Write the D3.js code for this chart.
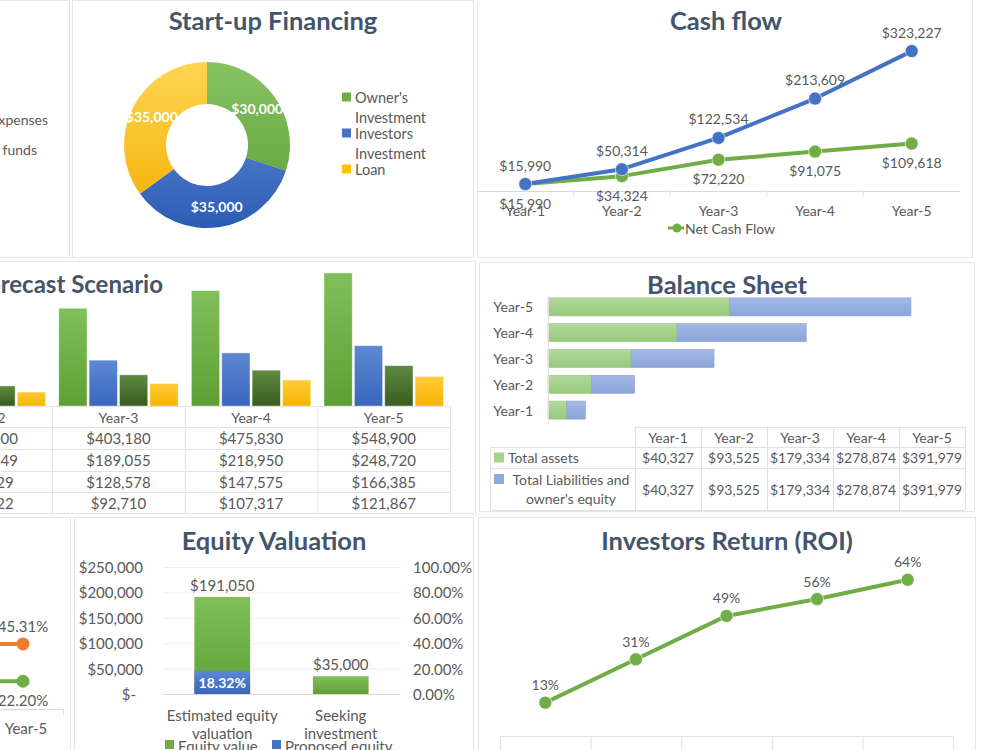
<!DOCTYPE html>
<html><head><meta charset="utf-8">
<script src="https://cdn.jsdelivr.net/npm/d3@7"></script>
<style>
body{margin:0;background:#fff;}
svg{display:block;font-family:Lato,'Noto Sans',sans-serif;}
</style>
</head><body>
<svg id="c" width="1000" height="750"></svg>
<script>
// ---------------- DATA ----------------
const years = ["Year-1","Year-2","Year-3","Year-4","Year-5"];

const sideLegendLabels = ["Start-up expenses","Start-up funds"];

const fundingSources = ["Owner's Investment","Investors Investment","Loan"];
const fundingValues = [30000,35000,35000];

const cumulativeCash = [15990,50314,122534,213609,323227];
const netCashFlow = [15990,34324,72220,91075,109618];

const forecastYears = ["Year-2","Year-3","Year-4","Year-5"];
const forecastSeries = ["Revenue","Expenses","Gross profit","Net profit"];
const forecastRevenue = [330000,403180,475830,548900];
const forecastExpenses = [159349,189055,218950,248720];
const forecastGross = [82929,128578,147575,166385];
const forecastNet = [57622,92710,107317,121867];

const balanceSeries = ["Total assets","Total Liabilities and owner's equity"];
const totalAssets = [40327,93525,179334,278874,391979];
const totalLiabilities = [40327,93525,179334,278874,391979];

const ratioYears = ["Year-4","Year-5"];
const ratioOrange = [45.2,45.31];
const ratioGreen = [22.1,22.20];

const equityCats = [["Estimated equity","valuation"],["Seeking","investment"]];
const equitySeries = ["Equity value","Proposed equity"];
const equityValue = [191050,35000];
const proposedEquity = [0.1832,null];
const equityTicks = [0,50000,100000,150000,200000,250000];
const pctTicks = [0,0.2,0.4,0.6,0.8,1.0];

const roiValues = [13,31,49,56,64];

// ---------------- SETUP ----------------
const svg = d3.select('#c');
const TXT = '#595959', TITLE = '#44546a';
const GREEN = '#70ad47', BLUE = '#4472c4', YELLOW = '#ffc000', ORANGE = '#ed7d31';
const defs = svg.append('defs');
function grad(id, c1, c2, y1, y2, units){
  const g = defs.append('linearGradient').attr('id', id).attr('x1',0).attr('x2',0);
  if(units){ g.attr('gradientUnits','userSpaceOnUse').attr('y1',y1).attr('y2',y2); }
  else { g.attr('y1',0).attr('y2',1); }
  g.append('stop').attr('offset','0%').attr('stop-color',c1);
  g.append('stop').attr('offset','100%').attr('stop-color',c2);
}
grad('gGreen','#80c05a','#5e9f35');
grad('gBlue','#5d88d4','#3866bb');
grad('gDk','#5e8a40','#385c20');
grad('gYel','#ffcb3a','#f5b400');
grad('dGreen','#86c462','#5c9b33',-83,83,true);
grad('dBlue','#6a94dc','#2d5cb4',-83,83,true);
grad('dYel','#ffd452','#f2b000',-83,83,true);
grad('bGreen','#b3d99c','#98c97b');
grad('bBlue','#a5b9e6','#8aa3d9');

function panel(x0,y0,x1,y1){
  svg.append('rect').attr('x',x0+0.5).attr('y',y0+0.5).attr('width',x1-x0).attr('height',y1-y0)
    .attr('fill','#fff').attr('stroke','#e6e6e6').attr('stroke-width',1);
}
function title(x,y,t,anchor,size){
  svg.append('text').attr('x',x).attr('y',y).attr('text-anchor',anchor||'middle').attr('dominant-baseline','central')
    .attr('fill',TITLE).attr('font-size',size||25.5).attr('font-weight',700).text(t);
}
function label(x,y,t,opts={}){
  return svg.append('text').attr('x',x).attr('y',y).attr('text-anchor',opts.anchor||'middle')
    .attr('dominant-baseline','central').attr('fill',opts.fill||TXT).attr('font-size',opts.size||14)
    .attr('font-weight',opts.weight||400).text(t);
}
const money = d3.format('$,');

panel(-400,0,69,257);
panel(72,0,473,257);
panel(477,-5,972,257);
panel(-400,261,475,513);
panel(479,262,974,511);
panel(-400,517,70,760);
panel(74,517,473,760);
panel(478,517,975,760);

// ---------------- TOP-LEFT (cut) ----------------
label(48,119,sideLegendLabels[0],{anchor:'end'});
label(37,149,sideLegendLabels[1],{anchor:'end'});

// ---------------- START-UP FINANCING ----------------
title(273,20,'Start-up Financing');
{
  const pie = d3.pie().sort(null).value(d=>d)(fundingValues);
  const arc = d3.arc().innerRadius(41).outerRadius(83);
  const lab = d3.arc().innerRadius(62).outerRadius(62);
  const g = svg.append('g').attr('transform','translate(207,145)');
  const fills = ['url(#dGreen)','url(#dBlue)','url(#dYel)'];
  g.selectAll('path').data(pie).join('path').attr('d',arc).attr('fill',(d,i)=>fills[i]);
  g.selectAll('text').data(pie).join('text')
    .attr('transform',d=>`translate(${lab.centroid(d)})`)
    .attr('text-anchor','middle').attr('dominant-baseline','central')
    .attr('fill','#fff').attr('font-size',14).attr('font-weight',700)
    .text(d=>money(d.data));
  const legCols = [GREEN,BLUE,YELLOW];
  const legLines = [["Owner's","Investment"],["Investors","Investment"],["Loan"]];
  let yy = 97;
  legLines.forEach((ls,i)=>{
    svg.append('rect').attr('x',342).attr('y',yy-4.5).attr('width',9).attr('height',9).attr('fill',legCols[i]);
    ls.forEach((l,j)=>{ label(355,yy+j*20,l,{anchor:'start',size:14.5}); });
    yy += 36;
  });
}

// ---------------- CASH FLOW ----------------
title(726,20,'Cash flow');
{
  const xb = d3.scaleBand().domain(years).range([477,960]);
  const xc = d => xb(d)+xb.bandwidth()/2;
  const y = d3.scaleLinear().domain([0,350000]).range([191,39.5]);
  const ax = svg.append('g').attr('transform','translate(0,191)')
    .call(d3.axisBottom(xb).tickSize(0).tickPadding(15));
  ax.select('.domain').attr('stroke','#d9d9d9');
  ax.selectAll('text').attr('fill',TXT).attr('font-size',14).attr('font-family','Lato');
  years.slice(1).forEach(yr=>{
    svg.append('line').attr('x1',xb(yr)).attr('x2',xb(yr)).attr('y1',191).attr('y2',197).attr('stroke','#e3e3e3');
  });
  const line = d3.line().x((d,i)=>xc(years[i])).y(d=>y(d));
  [[netCashFlow,GREEN,19],[cumulativeCash,BLUE,-19]].forEach(([vals,col,off])=>{
    svg.append('path').attr('d',line(vals)).attr('fill','none').attr('stroke',col).attr('stroke-width',4).attr('stroke-linejoin','round');
    vals.forEach((v,i)=>{
      svg.append('circle').attr('cx',xc(years[i])).attr('cy',y(v)).attr('r',6.5).attr('fill',col).attr('stroke','#fff').attr('stroke-opacity',0.6);
    });
    vals.forEach((v,i)=>{ label(xc(years[i]),y(v)+off,money(v)); });
  });
  svg.append('line').attr('x1',668).attr('x2',684).attr('y1',228).attr('y2',228).attr('stroke',GREEN).attr('stroke-width',3);
  svg.append('circle').attr('cx',677).attr('cy',228).attr('r',4.5).attr('fill',GREEN);
  label(685,228,'Net Cash Flow',{anchor:'start'});
}

// ---------------- FORECAST SCENARIO ----------------
title(163,283,'Forecast Scenario','end',24);
{
  const series = [forecastRevenue,forecastExpenses,forecastGross,forecastNet];
  const fills = ['url(#gGreen)','url(#gBlue)','url(#gDk)','url(#gYel)'];
  const xb = d3.scaleBand().domain(forecastYears).range([-80.5,450]).paddingInner(0.1).paddingOuter(0.05);
  const cell = d3.scaleBand().domain(forecastYears).range([-80.5,450]);
  const xi = d3.scaleBand().domain(forecastSeries).range([0,xb.bandwidth()]).paddingInner(0.07);
  const y = d3.scaleLinear().domain([0,600000]).range([406,260.5]);
  forecastYears.forEach((yr,i)=>{
    series.forEach((s,k)=>{
      svg.append('rect').attr('x',xb(yr)+xi(forecastSeries[k])).attr('y',y(s[i]))
        .attr('width',xi.bandwidth()).attr('height',y(0)-y(s[i])).attr('fill',fills[k])
        .attr('stroke','#fff').attr('stroke-opacity',0.5).attr('stroke-width',0.8);
    });
  });
  const rowsY = [406,427,449,471,492,513];
  rowsY.forEach(ry=> svg.append('line').attr('x1',-80).attr('x2',450).attr('y1',ry+0.5).attr('y2',ry+0.5).attr('stroke','#e3e3e3'));
  forecastYears.forEach(yr=>{
    svg.append('line').attr('x1',cell(yr)+cell.bandwidth()+0.5).attr('x2',cell(yr)+cell.bandwidth()+0.5).attr('y1',406).attr('y2',513).attr('stroke','#e3e3e3');
    const cx = cell(yr)+cell.bandwidth()/2;
    label(cx,417,yr);
  });
  series.forEach((s,k)=>{
    forecastYears.forEach((yr,i)=>{
      const cx = cell(yr)+cell.bandwidth()/2;
      label(cx,(rowsY[k+1]+rowsY[k+2])/2,money(s[i]),{size:15});
    });
  });
}

// ---------------- BALANCE SHEET ----------------
title(727,284,'Balance Sheet');
{
  const cats = years.slice().reverse();
  const yb = d3.scaleBand().domain(cats).range([294,423]).paddingInner(0.3).paddingOuter(0.15);
  const x = d3.scaleLinear().domain([0,800000]).range([548,918.4]);
  years.forEach((yr,i)=>{
    const a = totalAssets[i], l = totalLiabilities[i];
    svg.append('rect').attr('x',x(0)).attr('y',yb(yr)).attr('width',x(a)-x(0)).attr('height',yb.bandwidth()).attr('fill','url(#bGreen)').attr('stroke','#9cc485').attr('stroke-width',0.6);
    svg.append('rect').attr('x',x(a)).attr('y',yb(yr)).attr('width',x(a+l)-x(a)).attr('height',yb.bandwidth()).attr('fill','url(#bBlue)').attr('stroke','#8ba2d6').attr('stroke-width',0.6);
    label(533,yb(yr)+yb.bandwidth()/2,yr,{anchor:'end'});
  });
  svg.append('line').attr('x1',548.5).attr('x2',548.5).attr('y1',296).attr('y2',424).attr('stroke','#e0e0e0');
  const cb = d3.scaleBand().domain(years).range([635,965]);
  const G = '#e0e0e0';
  const hl = (x1,x2,yv)=>svg.append('line').attr('x1',x1).attr('x2',x2).attr('y1',yv+0.5).attr('y2',yv+0.5).attr('stroke',G);
  const vl = (xv,y1,y2)=>svg.append('line').attr('x1',xv+0.5).attr('x2',xv+0.5).attr('y1',y1).attr('y2',y2).attr('stroke',G);
  hl(635,965,427); hl(490,965,447); hl(490,965,468); hl(490,965,510);
  vl(490,447,510);
  years.forEach(yr=>{ vl(cb(yr),427,510); });
  vl(965,427,510);
  years.forEach((yr,i)=>{
    const cx = cb(yr)+cb.bandwidth()/2;
    label(cx,437,yr);
    label(cx,457.5,money(totalAssets[i]));
    label(cx,489,money(totalLiabilities[i]));
  });
  svg.append('rect').attr('x',494).attr('y',452.5).attr('width',10).attr('height',10).attr('fill','#a9d18e');
  label(508,457.5,balanceSeries[0],{anchor:'start'});
  svg.append('rect').attr('x',494).attr('y',474).attr('width',10).attr('height',10).attr('fill','#8faadc');
  label(571,479,'Total Liabilities and');
  label(571,498,"owner's equity");
}

// ---------------- BOTTOM-LEFT (cut ratio chart) ----------------
{
  const xb = d3.scaleBand().domain(ratioYears).range([-97,63]);
  const xc = d => xb(d)+xb.bandwidth()/2;
  const y = d3.scaleLinear().domain([5,50]).range([709,636.4]);
  svg.append('line').attr('x1',-97).attr('x2',63).attr('y1',709.5).attr('y2',709.5).attr('stroke','#d9d9d9');
  svg.append('line').attr('x1',63.5).attr('x2',63.5).attr('y1',709).attr('y2',715).attr('stroke','#e3e3e3');
  label(26,728,ratioYears[1],{size:15});
  const line = d3.line().x((d,i)=>xc(ratioYears[i])).y(d=>y(d));
  [[ratioOrange,ORANGE,-18],[ratioGreen,GREEN,19]].forEach(([vals,col,off])=>{
    svg.append('path').attr('d',line(vals)).attr('fill','none').attr('stroke',col).attr('stroke-width',4);
    vals.forEach((v,i)=>svg.append('circle').attr('cx',xc(ratioYears[i])).attr('cy',y(v)).attr('r',6.5).attr('fill',col));
    const last = vals.length-1;
    label(xc(ratioYears[last]),y(vals[last])+off,d3.format('.2f')(vals[last])+'%',{size:15});
  });
}

// ---------------- EQUITY VALUATION ----------------
title(274,540,'Equity Valuation');
{
  const keys = equityCats.map(c=>c.join(' '));
  const xb = d3.scaleBand().domain(keys).range([163,400]).paddingInner(0.53).paddingOuter(0.265);
  const yL = d3.scaleLinear().domain([0,250000]).range([694,567]);
  const yR = d3.scaleLinear().domain([0,1]).range([694,567]);
  equityTicks.forEach(t=>{
    svg.append('line').attr('x1',163).attr('x2',400).attr('y1',yL(t)+0.5).attr('y2',yL(t)+0.5).attr('stroke',t===0?'#d9d9d9':'#efefef');
    label(t===0?136:143,yL(t),t===0?'$-':money(t),{anchor:'end',size:15});
  });
  pctTicks.forEach(t=>label(413,yR(t),d3.format('.2%')(t),{anchor:'start',size:15}));
  keys.forEach((k,i)=>{
    svg.append('rect').attr('x',xb(k)).attr('y',yL(equityValue[i])).attr('width',xb.bandwidth())
      .attr('height',yL(0)-yL(equityValue[i])).attr('fill','url(#gGreen)');
    label(xb(k)+xb.bandwidth()/2,yL(equityValue[i])-12,money(equityValue[i]),{size:15});
    if(proposedEquity[i]!=null){
      svg.append('rect').attr('x',xb(k)).attr('y',yR(proposedEquity[i])).attr('width',xb.bandwidth())
        .attr('height',yR(0)-yR(proposedEquity[i])).attr('fill','url(#gBlue)');
      label(xb(k)+xb.bandwidth()/2,(yR(proposedEquity[i])+yR(0))/2,d3.format('.2%')(proposedEquity[i]),{fill:'#fff',weight:700,size:14});
    }
    equityCats[i].forEach((l,j)=>label(xb(k)+xb.bandwidth()/2,715+j*18,l,{size:15}));
  });
  svg.append('rect').attr('x',165).attr('y',740).attr('width',9).attr('height',9).attr('fill',GREEN);
  label(178,746,equitySeries[0],{anchor:'start',size:15});
  svg.append('rect').attr('x',272).attr('y',740).attr('width',9).attr('height',9).attr('fill',BLUE);
  label(285,746,equitySeries[1],{anchor:'start',size:15});
}

// ---------------- ROI ----------------
title(727,540,'Investors Return (ROI)');
{
  const xb = d3.scaleBand().domain(years).range([500,953]);
  const xc = d => xb(d)+xb.bandwidth()/2;
  const y = d3.scaleLinear().domain([0,70]).range([734,565.3]);
  svg.append('line').attr('x1',500).attr('x2',953).attr('y1',736.5).attr('y2',736.5).attr('stroke','#e3e3e3');
  years.concat(['end']).forEach((yr,i)=>{
    const xv = i<years.length ? xb(yr) : 953;
    svg.append('line').attr('x1',xv+0.5).attr('x2',xv+0.5).attr('y1',736).attr('y2',750).attr('stroke','#e3e3e3');
  });
  const line = d3.line().x((d,i)=>xc(years[i])).y(d=>y(d));
  svg.append('path').attr('d',line(roiValues)).attr('fill','none').attr('stroke',GREEN).attr('stroke-width',4).attr('stroke-linejoin','round');
  roiValues.forEach((v,i)=>{
    svg.append('circle').attr('cx',xc(years[i])).attr('cy',y(v)).attr('r',6.5).attr('fill',GREEN).attr('stroke','#fff').attr('stroke-opacity',0.6);
    label(xc(years[i]),y(v)-18,v+'%');
  });
}
</script>
</body></html>
